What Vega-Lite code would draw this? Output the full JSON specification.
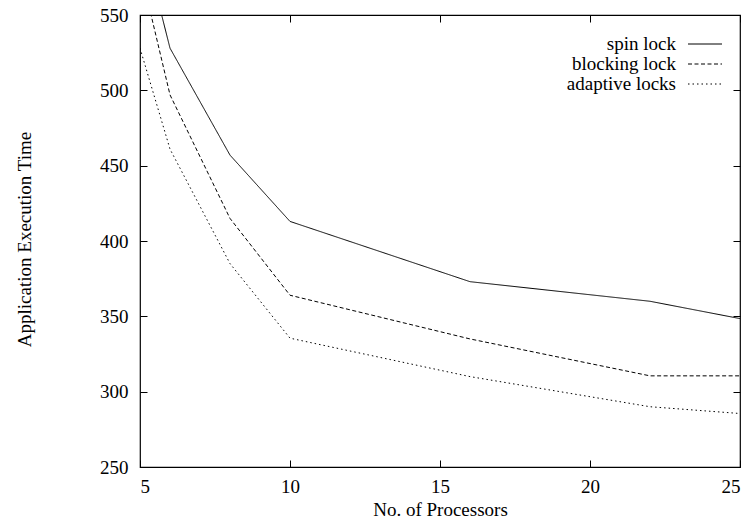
{
  "$schema": "https://vega.github.io/schema/vega-lite/v6.json",
  "width": 600,
  "height": 452,
  "autosize": {"type": "none"},
  "padding": {"left": 140, "top": 15, "right": 14, "bottom": 56},
  "background": "white",
  "config": {
    "font": "Liberation Serif",
    "view": {"stroke": "black", "strokeWidth": 1.2},
    "axis": {
      "grid": false,
      "domain": false,
      "ticks": true,
      "tickColor": "black",
      "tickOpacity": 1,
      "tickWidth": 1,
      "tickSize": 7,
      "labelFont": "Liberation Serif",
      "labelFontSize": 19,
      "labelColor": "black",
      "titleFont": "Liberation Serif",
      "titleFontSize": 19,
      "titleFontWeight": "normal",
      "titleColor": "black"
    }
  },
  "data": {
    "values": [
      {"processors": 5, "time": 607, "lock": "spin lock"},
      {"processors": 6, "time": 528, "lock": "spin lock"},
      {"processors": 8, "time": 457, "lock": "spin lock"},
      {"processors": 10, "time": 413, "lock": "spin lock"},
      {"processors": 16, "time": 373, "lock": "spin lock"},
      {"processors": 22, "time": 360, "lock": "spin lock"},
      {"processors": 25, "time": 348.5, "lock": "spin lock"},
      {"processors": 5, "time": 581, "lock": "blocking lock"},
      {"processors": 6, "time": 497, "lock": "blocking lock"},
      {"processors": 8, "time": 415, "lock": "blocking lock"},
      {"processors": 10, "time": 364, "lock": "blocking lock"},
      {"processors": 16, "time": 335, "lock": "blocking lock"},
      {"processors": 22, "time": 310.5, "lock": "blocking lock"},
      {"processors": 25, "time": 310.5, "lock": "blocking lock"},
      {"processors": 5, "time": 528, "lock": "adaptive locks"},
      {"processors": 6, "time": 461, "lock": "adaptive locks"},
      {"processors": 8, "time": 385, "lock": "adaptive locks"},
      {"processors": 10, "time": 335.5, "lock": "adaptive locks"},
      {"processors": 16, "time": 310, "lock": "adaptive locks"},
      {"processors": 22, "time": 290, "lock": "adaptive locks"},
      {"processors": 25, "time": 285.5, "lock": "adaptive locks"}
    ]
  },
  "layer": [
    {
      "mark": {"type": "line", "clip": true, "color": "black", "strokeWidth": 1},
      "encoding": {
        "x": {
          "field": "processors",
          "type": "quantitative",
          "scale": {"domain": [5, 25], "nice": false, "zero": false},
          "axis": {
            "orient": "bottom",
            "offset": -7,
            "values": [5, 10, 15, 20, 25],
            "title": "No. of Processors",
            "labelPadding": 10,
            "titleY": 55,
            "titleBaseline": "alphabetic"
          }
        },
        "y": {
          "field": "time",
          "type": "quantitative",
          "scale": {"domain": [250, 550], "nice": false, "zero": false},
          "axis": {
            "orient": "left",
            "offset": -7,
            "values": [250, 300, 350, 400, 450, 500, 550],
            "title": "Application Execution Time",
            "labelPadding": 12,
            "titleX": -123,
            "titleY": 224,
            "titleAngle": -90,
            "titleAlign": "center",
            "titleBaseline": "middle"
          }
        },
        "strokeDash": {
          "field": "lock",
          "type": "nominal",
          "scale": {
            "domain": ["spin lock", "blocking lock", "adaptive locks"],
            "range": [[1, 0], [4, 2.5], [1.5, 3]]
          },
          "legend": {
            "title": null,
            "orient": "none",
            "legendX": 536,
            "legendY": 19.5,
            "padding": 0,
            "symbolType": "M-8.5,0H8.5",
            "symbolSize": 16,
            "symbolStrokeWidth": 1,
            "symbolStrokeColor": "black",
            "symbolFillColor": "transparent",
            "labelFont": "Liberation Serif",
            "labelFontSize": 19,
            "labelColor": "black",
            "labelLimit": 300,
            "rowPadding": 0,
            "encode": {
              "labels": {"update": {"align": {"value": "right"}, "x": {"value": 0}}},
              "symbols": {"update": {"x": {"value": 29}}}
            }
          }
        }
      }
    },
    {
      "mark": {"type": "line", "clip": true, "opacity": 0},
      "encoding": {
        "x": {
          "field": "processors",
          "type": "quantitative",
          "axis": {"orient": "top", "offset": -7, "values": [5, 10, 15, 20, 25], "labels": false, "title": null}
        },
        "y": {
          "field": "time",
          "type": "quantitative",
          "axis": {"orient": "right", "offset": -7, "values": [250, 300, 350, 400, 450, 500, 550], "labels": false, "title": null}
        },
        "detail": {"field": "lock", "type": "nominal"}
      }
    }
  ],
  "resolve": {"axis": {"x": "independent", "y": "independent"}}
}
